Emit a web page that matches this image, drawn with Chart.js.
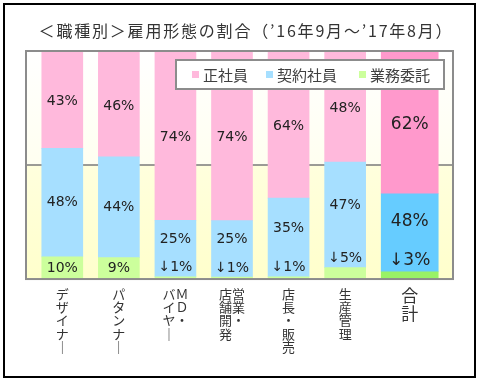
<!DOCTYPE html>
<html><head><meta charset="utf-8">
<script src="https://cdn.jsdelivr.net/npm/chart.js@4"></script>
<style>
html,body{margin:0;padding:0;background:#fff;}
#wrap{position:relative;width:478px;height:381px;overflow:hidden;}
#outer{position:absolute;left:3px;top:3px;width:469px;height:371px;border:2px solid #000;pointer-events:none;}
canvas{position:absolute;left:0;top:0;}
</style></head><body>
<div id="wrap"><canvas id="c" width="478" height="381"></canvas><div id="outer"></div></div>
<script>
// ---- data ----
const chartTitle = '＜職種別＞雇用形態の割合（’16年9月～’17年8月）';
const categories = [
  ['デ','ザ','イ','ナ','｜'],
  ['パ','タ','ン','ナ','｜'],
  ['バＭ','イＤ','ヤ・','｜　'],
  ['店営','舗業','開・','発　'],
  ['店','長','・','販','売'],
  ['生','産','管','理'],
  ['合','計']
];
const seriesNames = ['業務委託', '契約社員', '正社員'];
const gyomuItaku = [9.7, 9.4, 1.0, 0.9, 1.0, 5.0, 3.2];
const keiyaku    = [47.6, 44.2, 24.8, 24.7, 34.5, 46.3, 34.2];
const seishain   = [42.7, 46.4, 74.2, 74.4, 64.5, 48.7, 62.6];
const gyomuLabels    = ['10%', '9%', '↓1%', '↓1%', '↓1%', '↓5%', '↓3%'];
const keiyakuLabels  = ['48%', '44%', '25%', '25%', '35%', '47%', '48%'];
const seishainLabels = ['43%', '46%', '74%', '74%', '64%', '48%', '62%'];
const totalIndex = 6;

// ---- style ----
const colors = {
  green: ['#CCFF9C', '#99F266'],
  blue:  ['#A6DFFF', '#66CCFF'],
  pink:  ['#FFB9DC', '#FF99CC']
};
const perPoint = pair => categories.map((_, i) => i === totalIndex ? pair[1] : pair[0]);
const NARROW = 41, WIDE = 57, SHIFT = (WIDE - NARROW) / 2;
const FRAME_L = 8, FRAME_R = 23;
const CJK = '"Noto Sans CJK JP", "Noto Sans", sans-serif';
const NUM = '"DejaVu Sans", sans-serif';

const widenTotal = {
  id: 'widenTotal',
  afterDatasetsUpdate(chart) {
    chart.data.datasets.forEach((ds, di) => {
      const el = chart.getDatasetMeta(di).data[totalIndex];
      if (el) { el.width = WIDE; el.x = el.x + SHIFT; }
    });
  }
};

const frameBg = {
  id: 'frameBg',
  beforeDatasetsDraw(chart) {
    const a = chart.chartArea, ctx = chart.ctx;
    const L = a.left - FRAME_L, R = a.right + FRAME_R, T = a.top, B = a.bottom;
    const mid = chart.scales.y.getPixelForValue(50);
    ctx.save();
    let g = ctx.createLinearGradient(0, T, 0, mid);
    g.addColorStop(0, '#FFFFFF'); g.addColorStop(1, '#FFFFF0');
    ctx.fillStyle = g; ctx.fillRect(L, T, R - L, mid - T);
    g = ctx.createLinearGradient(0, mid, 0, B);
    g.addColorStop(0, '#FFFFDD'); g.addColorStop(1, '#FFFFCC');
    ctx.fillStyle = g; ctx.fillRect(L, mid, R - L, B - mid);
    ctx.strokeStyle = '#7a7a7a'; ctx.lineWidth = 1.5;
    ctx.beginPath(); ctx.moveTo(L, mid); ctx.lineTo(R, mid); ctx.stroke();
    ctx.restore();
  },
  afterDatasetsDraw(chart) {
    const a = chart.chartArea, ctx = chart.ctx;
    const L = a.left - FRAME_L, R = a.right + FRAME_R, T = a.top, B = a.bottom;
    ctx.save();
    // frame
    ctx.strokeStyle = '#8c8c8c'; ctx.lineWidth = 2;
    ctx.strokeRect(L, T, R - L, B - T);
    // data labels
    const gMeta = chart.getDatasetMeta(0).data, bMeta = chart.getDatasetMeta(1).data, pMeta = chart.getDatasetMeta(2).data;
    ctx.fillStyle = '#222'; ctx.textAlign = 'center'; ctx.textBaseline = 'middle';
    categories.forEach((_, i) => {
      const big = i === totalIndex;
      ctx.font = (big ? '17px ' : '14px ') + NUM;
      const g = gMeta[i], b = bMeta[i], p = pMeta[i];
      const arrow = gyomuLabels[i].startsWith('↓');
      let gy, bEnd;
      if (arrow) { gy = g.y - (big ? 11 : 9); bEnd = gy - (big ? 11 : 9); }
      else { gy = (g.y + g.base) / 2; bEnd = b.base; }
      ctx.fillText(gyomuLabels[i], g.x, gy);
      ctx.fillText(keiyakuLabels[i], b.x, (b.y + bEnd) / 2);
      ctx.fillText(seishainLabels[i], p.x, (p.y + p.base) / 2 + 2);
    });
    // legend
    const bw = 268, bh = 29, bx = R - 9 - bw, by = T + 9;
    ctx.fillStyle = '#fff'; ctx.fillRect(bx, by, bw, bh);
    ctx.strokeStyle = '#8c8c8c'; ctx.lineWidth = 2; ctx.strokeRect(bx, by, bw, bh);
    const order = [2, 1, 0], offs = [16, 90, 183];
    ctx.font = '15px ' + CJK; ctx.textAlign = 'left';
    order.forEach((di, k) => {
      const ds = chart.data.datasets[di];
      ctx.fillStyle = ds.backgroundColor[0];
      ctx.fillRect(bx + offs[k], by + bh / 2 - 3.5, 7, 7);
      ctx.fillStyle = '#404040';
      ctx.fillText(ds.label, bx + offs[k] + 11, by + bh / 2 + 1);
    });
    ctx.restore();
  },
  afterDraw(chart) {
    const ctx = chart.ctx;
    ctx.save();
    ctx.font = '16px ' + CJK;
    if ('letterSpacing' in ctx) ctx.letterSpacing = '1.8px';
    ctx.fillStyle = '#333'; ctx.textAlign = 'center'; ctx.textBaseline = 'middle';
    ctx.fillText(chartTitle, 246, 31);
    ctx.restore();
  }
};

const mk = (label, data, pair) => ({
  label, data, backgroundColor: perPoint(pair), borderWidth: 0,
  barThickness: NARROW, clip: false
});

new Chart(document.getElementById('c'), {
  type: 'bar',
  data: {
    labels: categories,
    datasets: [
      mk(seriesNames[0], gyomuItaku, colors.green),
      mk(seriesNames[1], keiyaku, colors.blue),
      mk(seriesNames[2], seishain, colors.pink)
    ]
  },
  options: {
    responsive: false, animation: false, devicePixelRatio: 1,
    layout: { padding: { left: 34, right: 48, top: 51, bottom: 19 } },
    plugins: { legend: { display: false }, title: { display: false }, tooltip: { enabled: false } },
    scales: {
      x: {
        stacked: true, offset: true,
        grid: { display: false, drawTicks: false }, border: { display: false },
        ticks: {
          padding: 8, maxRotation: 0, autoSkip: false, color: '#333',
          font: ctx => ({ family: CJK, size: ctx.index === totalIndex ? 17 : 13, lineHeight: ctx.index === totalIndex ? 1.05 : 1.03 })
        },
        afterUpdate(scale) {
          if (!scale._origTickPx) {
            scale._origTickPx = scale.getPixelForTick;
            scale.getPixelForTick = function (i) {
              return scale._origTickPx.call(scale, i) + (i === totalIndex ? SHIFT : 0);
            };
          }
        }
      },
      y: { stacked: true, display: false, min: 0, max: 100 }
    }
  },
  plugins: [widenTotal, frameBg]
});
</script>
</body></html>
